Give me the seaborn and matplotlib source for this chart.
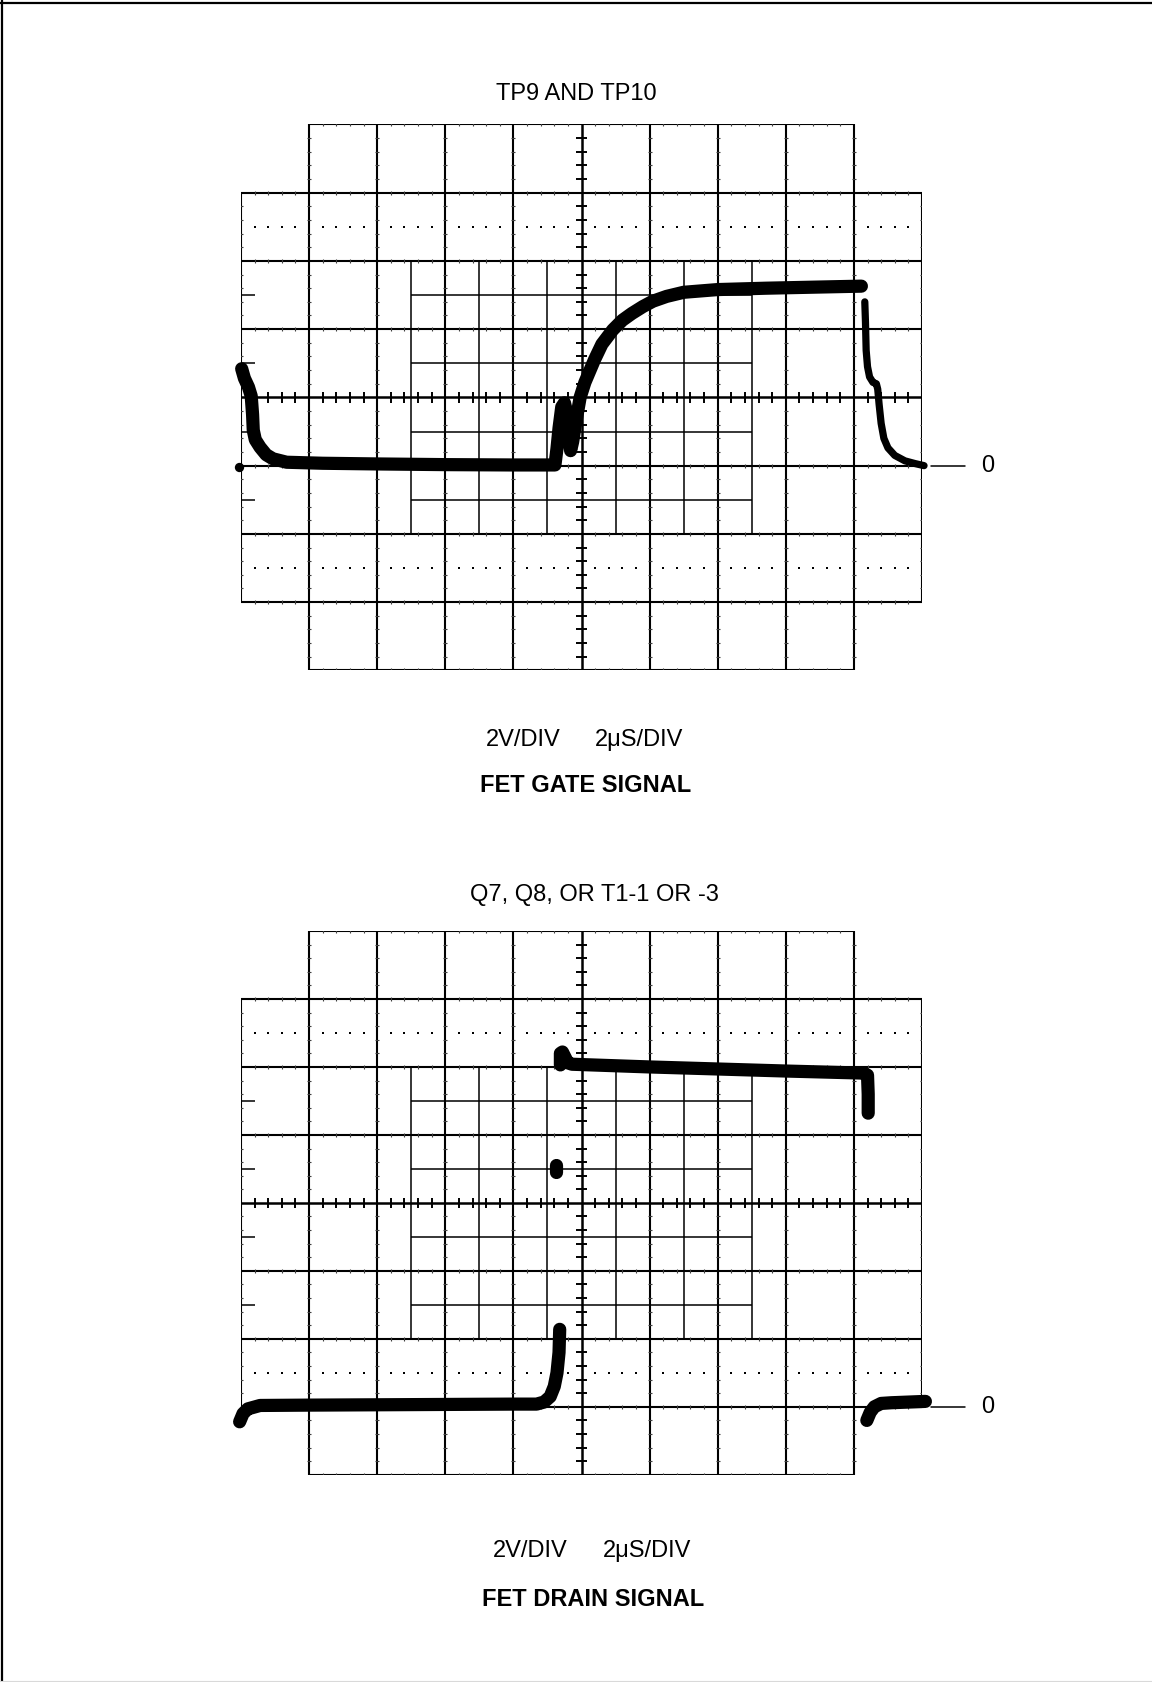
"""
Oscilloscope traces: FET gate / drain signals (two graticules on one page).
Values are in screen divisions: x 0..10 (2 uS/div), y -4..4 (2 V/div).
"""

import numpy as np
import pandas as pd
import matplotlib
matplotlib.use("Agg")
import matplotlib.pyplot as plt
from matplotlib.lines import Line2D
import seaborn as sns

W, H = 1152, 1682

# ── Gate trace (TP9 and TP10) ────────────────────────────────────────────────
gate_x = [0.01, 0.05, 0.11, 0.15, 0.17, 0.18, 0.21, 0.28, 0.37, 0.47, 0.67,
          1.2, 2.0, 3.0, 4.0, 4.61, 4.64, 4.67, 4.71, 4.75, 4.79, 4.82, 4.84,
          4.87, 4.91, 4.98, 5.05, 5.19, 5.30, 5.46, 5.60, 5.74, 5.90, 6.05,
          6.25, 6.50, 7.0, 7.71, 8.4, 9.11]
gate_y = [0.42, 0.28, 0.15, 0.02, -0.25, -0.48, -0.62, -0.73, -0.84, -0.90,
          -0.95, -0.965, -0.975, -0.985, -0.99, -0.99, -0.75, -0.45, -0.14,
          -0.08, -0.25, -0.60, -0.78, -0.65, -0.40, 0.0, 0.22, 0.55, 0.78,
          0.99, 1.13, 1.23, 1.33, 1.41, 1.48, 1.54, 1.58, 1.60, 1.615, 1.63]
gate_fall_x = [9.16, 9.17, 9.18, 9.20, 9.23, 9.28, 9.33, 9.35, 9.37, 9.40,
               9.44, 9.50, 9.60, 9.75, 9.90, 10.03]
gate_fall_y = [1.40, 1.10, 0.69, 0.45, 0.30, 0.22, 0.20, 0.12, -0.10, -0.38,
               -0.60, -0.74, -0.85, -0.93, -0.97, -1.00]
gate_dot = (-0.03, -1.02)
gate_zero = -1.0

# ── Drain trace (Q7, Q8, T1-1 or -3) ─────────────────────────────────────────
drain_low_x = [-0.02, 0.03, 0.10, 0.28, 1.0, 2.0, 3.0, 4.0, 4.34, 4.45, 4.54,
               4.60, 4.64, 4.67, 4.68]
drain_low_y = [-3.22, -3.10, -3.03, -2.98, -2.975, -2.97, -2.965, -2.96,
               -2.96, -2.93, -2.85, -2.70, -2.50, -2.20, -1.86]
drain_high_x = [4.69, 4.69, 4.72, 4.76, 4.80, 4.86, 6.0, 7.0, 8.0, 9.13, 9.20,
                9.21, 9.21]
drain_high_y = [2.03, 2.20, 2.22, 2.14, 2.06, 2.04, 2.00, 1.97, 1.94, 1.91,
                1.88, 1.60, 1.32]
drain_tail_x = [9.19, 9.24, 9.30, 9.40, 9.55, 9.80, 10.05]
drain_tail_y = [-3.20, -3.08, -3.00, -2.95, -2.94, -2.93, -2.92]
drain_blip_x = [4.62, 4.62]
drain_blip_y = [0.46, 0.56]
drain_zero = -3.0

# ── Labels ───────────────────────────────────────────────────────────────────
titles = ["TP9 AND TP10", "Q7, Q8, OR T1-1 OR -3"]
captions = ["FET GATE SIGNAL", "FET DRAIN SIGNAL"]
volts_label = "2V/DIV"
time_label = "2\u03bcS/DIV"

sns.set_theme(style="white")
plt.rcParams["font.family"] = ["Liberation Sans", "DejaVu Sans"]
plt.rcParams["text.color"] = "black"

MAJOR_LW = 1.5
INNER_LW = 1.1
CENTER_LW = 1.8
TRACE_LW = 9.5
THIN_LW = 5.2


def fx(x):
    return x / W


def fy(y):
    return 1 - y / H


def draw_graticule(ax):
    k = "black"
    # major horizontal lines
    for y in range(-4, 5):
        if y == 0:
            continue
        x0, x1 = (1, 9) if abs(y) == 4 else (0, 10)
        ax.hlines(y, x0, x1, color=k, lw=MAJOR_LW, zorder=2)
        xs = [x for x in np.arange(x0, x1 + 1e-6, 0.2) if abs(x - round(x)) > 1e-6]
        ax.vlines(xs, y - 0.03, y + 0.03, color="0.25", lw=0.8, zorder=2)
    # major vertical lines
    for x in range(0, 11):
        if x == 5:
            continue
        y0, y1 = (-3, 3) if x in (0, 10) else (-4, 4)
        ax.vlines(x, y0, y1, color=k, lw=MAJOR_LW, zorder=2)
        ys = [y for y in np.arange(y0, y1 + 1e-6, 0.2) if abs(y - round(y)) > 1e-6]
        ax.hlines(ys, x - 0.03, x + 0.03, color="0.25", lw=0.8, zorder=2)
    # inner fine grid
    for x in [2.5, 3.5, 4.5, 5.5, 6.5, 7.5]:
        ax.vlines(x, -2, 2, color=k, lw=INNER_LW, zorder=2)
    for y in [1.5, 0.5, -0.5, -1.5]:
        ax.hlines(y, 2.5, 7.5, color=k, lw=INNER_LW, zorder=2)
        ax.hlines(y, 0, 0.2, color=k, lw=INNER_LW, zorder=2)
    # dotted rows
    dots = [i + f for i in range(10) for f in (0.2, 0.4, 0.6, 0.8)]
    for y in (2.5, -2.5):
        ax.scatter(dots, [y] * len(dots), s=3.5, color=k, marker="s",
                   linewidths=0, zorder=2)
    # centre axes with 0.2 div ticks
    ax.hlines(0, 0, 10, color=k, lw=CENTER_LW, zorder=2)
    ax.vlines(5, -4, 4, color=k, lw=CENTER_LW, zorder=2)
    tx = [x for x in np.arange(0.2, 10, 0.2) if abs(x - round(x)) > 1e-6]
    ax.vlines(tx, -0.075, 0.075, color=k, lw=1.4, zorder=2)
    ty = [y for y in np.arange(-3.8, 3.81, 0.2) if abs(y) > 1e-6]
    ax.hlines(ty, 4.925, 5.075, color=k, lw=1.4, zorder=2)

    ax.set_xlim(0, 10)
    ax.set_ylim(-4, 4)
    ax.axis("off")


def trace(ax, xs, ys, lw=TRACE_LW):
    df = pd.DataFrame({"x": xs, "y": ys})
    sns.lineplot(data=df, x="x", y="y", sort=False, estimator=None, ax=ax,
                 color="black", linewidth=lw, solid_capstyle="round",
                 solid_joinstyle="round", clip_on=False, zorder=5, legend=False)


def zero_marker(ax, y0):
    ax.plot([10.13, 10.63], [y0, y0], color="black", lw=1.1, clip_on=False)
    ax.text(10.97, y0, "0", ha="center", va="center", fontsize=17,
            clip_on=False)


fig = plt.figure(figsize=(W / 100, H / 100), dpi=100)
fig.patch.set_facecolor("white")

# page frame
fig.add_artist(Line2D([0, 1], [fy(2.5), fy(2.5)], color="black", lw=1.6))
fig.add_artist(Line2D([fx(1.5), fx(1.5)], [0, 1], color="black", lw=1.6))
fig.add_artist(Line2D([0, 1], [fy(1681), fy(1681)], color="0.85", lw=0.8))

# ── Top: gate signal ─────────────────────────────────────────────────────────
ax1 = fig.add_axes([fx(241), fy(670.4), 681 / W, 546 / H])
draw_graticule(ax1)
trace(ax1, gate_x, gate_y)
trace(ax1, gate_fall_x, gate_fall_y, lw=THIN_LW)
ax1.scatter([gate_dot[0]], [gate_dot[1]], s=45, color="black", zorder=5,
            clip_on=False, linewidths=0)
zero_marker(ax1, gate_zero)

fig.text(fx(576), fy(94), titles[0], ha="center", va="center", fontsize=17)
fig.text(fx(486), fy(740), volts_label, ha="left", va="center", fontsize=17)
fig.text(fx(595), fy(740), time_label, ha="left", va="center", fontsize=17)
fig.text(fx(586), fy(785), captions[0], ha="center", va="center",
         fontsize=17, fontweight="bold")

# ── Bottom: drain signal ─────────────────────────────────────────────────────
ax2 = fig.add_axes([fx(241), fy(1474.8), 681 / W, 543.8 / H])
draw_graticule(ax2)
trace(ax2, drain_low_x, drain_low_y)
trace(ax2, drain_high_x, drain_high_y)
trace(ax2, drain_tail_x, drain_tail_y)
trace(ax2, drain_blip_x, drain_blip_y)
zero_marker(ax2, drain_zero)

fig.text(fx(594), fy(895), titles[1], ha="center", va="center", fontsize=17)
fig.text(fx(493), fy(1551), volts_label, ha="left", va="center", fontsize=17)
fig.text(fx(603), fy(1551), time_label, ha="left", va="center", fontsize=17)
fig.text(fx(593), fy(1600), captions[1], ha="center", va="center",
         fontsize=17, fontweight="bold")

fig.savefig("out.png", dpi=100, facecolor="white")
plt.close(fig)
